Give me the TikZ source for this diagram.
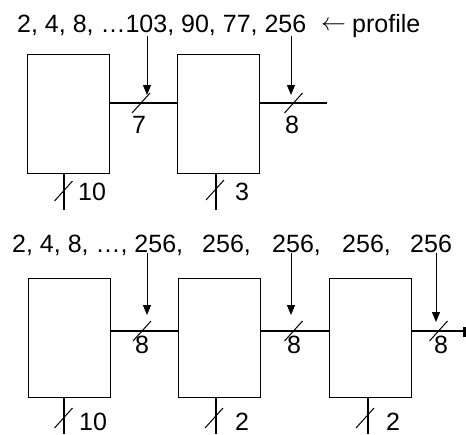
\documentclass[tikz,border=0pt]{standalone}
\usepackage{fontspec}
\setmainfont{Liberation Sans}
\usetikzlibrary{arrows.meta}
\tikzset{
  blk/.style={draw, line width=1.5pt, minimum width=82pt, minimum height=119pt, inner sep=0pt, anchor=north west},
  wire/.style={line width=1.5pt},
  sl/.style={line width=1pt},
  pt/.style={line width=1pt, -{Triangle[length=10pt,width=8pt]}},
  txt/.style={inner sep=0pt, anchor=base west, font=\fontsize{25}{30}\selectfont},
}
\begin{document}
\begin{tikzpicture}[x=1pt,y=-1pt]
\useasboundingbox (0,0) rectangle (466,434);
% ---------- top diagram ----------
\node[blk] (a1) at (26.5,53.5) {};
\node[blk] (a2) at (176.5,53.5) {};
\node[txt] (ta) at (17,32) {2, 4, 8, …103, 90, 77, 256};
\node[txt] (tp) at (352,32) {profile};
\node[txt] (tarr) at (321,30) {$\leftarrow$};
\coordinate (ay) at (0,103);
\coordinate (aend) at (327,103);
\draw[wire] (a1.east |- ay) -- (a2.west |- ay);
\draw[wire] (a2.east |- ay) -- (aend);
% arrows
\coordinate (ap1) at (147,36);
\coordinate (ap2) at (291,36);
\coordinate (at1) at (147,95);
\coordinate (at2) at (291,95);
\draw[pt] (ap1) -- (at1);
\draw[pt] (ap2) -- (at2);
% slashes on wires
\coordinate (as1) at (141,103);
\coordinate (as2) at (293.5,103);
\foreach \s in {as1,as2}{
  \draw[sl] ([shift={(-9,10)}]\s) -- ([shift={(9,-10)}]\s);
}
\node[txt] (l7) at (132,133) {7};
\node[txt] (l8a) at (285,133) {8};
% bottom legs
\coordinate (ab1) at (64,210);
\coordinate (ab2) at (216,210);
\draw[wire] (a1.south -| ab1) -- (ab1);
\draw[wire] (a2.south -| ab2) -- (ab2);
\coordinate (ag1) at (63.5,191);
\coordinate (ag2) at (215,190);
\foreach \s in {ag1,ag2}{
  \draw[sl] ([shift={(-9,10)}]\s) -- ([shift={(9,-10)}]\s);
}
\node[txt] (l10a) at (78,200) {10};
\node[txt] (l3) at (235,200) {3};
% ---------- bottom diagram ----------
\node[blk] (b1) at (27.5,277.5) {};
\node[blk] (b2) at (177.5,277.5) {};
\node[blk] (b3) at (328.5,277.5) {};
\node[txt] (tb1) at (12,252) {2, 4, 8, …, 256,};
\node[txt] (tb2) at (202,252) {256,};
\node[txt] (tb3) at (272,252) {256,};
\node[txt] (tb4) at (342,252) {256,};
\node[txt] (tb5) at (410,252) {256};
\coordinate (by) at (0,331);
\coordinate (bend) at (466,331);
\draw[wire] (b1.east |- by) -- (b2.west |- by);
\draw[wire] (b2.east |- by) -- (b3.west |- by);
\draw[wire] (b3.east |- by) -- (bend);
\fill (463,326.5) rectangle (466,337);
\coordinate (bp1) at (147,253);
\coordinate (bp2) at (291,253);
\coordinate (bp3) at (436,253);
\coordinate (bt1) at (147,315);
\coordinate (bt2) at (291,315);
\coordinate (bt3) at (436,322);
\draw[pt] (bp1) -- (bt1);
\draw[pt] (bp2) -- (bt2);
\draw[pt] (bp3) -- (bt3);
\coordinate (bs1) at (142,331);
\coordinate (bs2) at (293.5,331);
\coordinate (bs3) at (438.5,331);
\foreach \s in {bs1,bs2,bs3}{
  \draw[sl] ([shift={(-9,10)}]\s) -- ([shift={(9,-10)}]\s);
}
\node[txt] (l8b) at (135,353) {8};
\node[txt] (l8c) at (287,353) {8};
\node[txt] (l8d) at (434,353) {8};
\coordinate (bb1) at (64,434);
\coordinate (bb2) at (216,434);
\coordinate (bb3) at (368,434);
\draw[wire] (b1.south -| bb1) -- (bb1);
\draw[wire] (b2.south -| bb2) -- (bb2);
\draw[wire] (b3.south -| bb3) -- (bb3);
\coordinate (bg1) at (63.5,418);
\coordinate (bg2) at (214,418);
\coordinate (bg3) at (365,418);
\foreach \s in {bg1,bg2,bg3}{
  \draw[sl] ([shift={(-9,10)}]\s) -- ([shift={(9,-10)}]\s);
}
\node[txt] (l10b) at (79,430) {10};
\node[txt] (l2a) at (235,430) {2};
\node[txt] (l2b) at (386,430) {2};
\end{tikzpicture}
\end{document}
